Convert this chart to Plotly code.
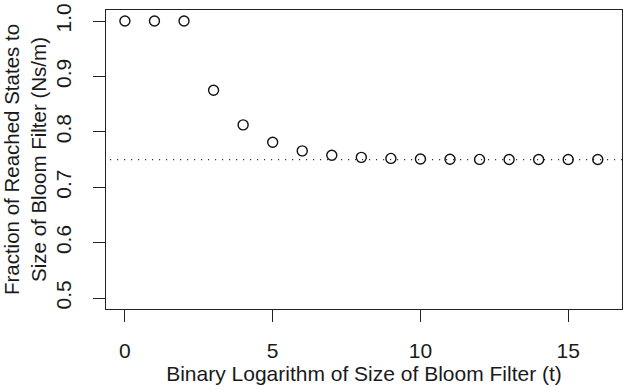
import plotly.graph_objects as go

t_values = list(range(17))
fractions = [1.0, 1.0, 1.0, 0.875, 0.8125, 0.78125, 0.7656, 0.7578, 0.7539,
             0.752, 0.751, 0.7505, 0.7502, 0.7501, 0.75, 0.75, 0.75]
asymptote = 0.75
x_ticks = [0, 5, 10, 15]
y_ticks = [0.5, 0.6, 0.7, 0.8, 0.9, 1.0]
y_tick_text = ["0.5", "0.6", "0.7", "0.8", "0.9", "1.0"]

font = dict(family="Liberation Sans, Arial, sans-serif", size=21, color="#1a1a1a")

fig = go.Figure()
fig.add_trace(go.Scatter(
    x=[-0.5, 16.82], y=[asymptote, asymptote], mode="lines",
    line=dict(color="#111", width=1.2, dash="1px,6px"), showlegend=False, hoverinfo="skip"))
fig.add_trace(go.Scatter(
    x=t_values, y=fractions, mode="markers",
    marker=dict(symbol="circle-open", size=10, color="#111", line=dict(width=1.4)),
    showlegend=False))

fig.update_layout(
    width=635, height=391,
    margin=dict(l=106, r=13, t=10, b=82),
    plot_bgcolor="white", paper_bgcolor="white",
    font=font,
    xaxis=dict(range=[-0.64, 16.82], tickvals=x_ticks, ticktext=[str(v) for v in x_ticks],
               automargin=False,
               showgrid=False, zeroline=False, showline=True, mirror=True,
               linecolor="#222", linewidth=1, ticks="outside", ticklen=12,
               tickcolor="#222", tickwidth=1, ticklabelstandoff=11,
               title=dict(text="Binary Logarithm of Size of Bloom Filter (t)", standoff=1,
                          font=dict(size=21))),
    yaxis=dict(range=[0.4802, 1.0199], tickvals=y_ticks, ticktext=y_tick_text,
               tickangle=-90, automargin=False,
               showgrid=False, zeroline=False, showline=True, mirror=True,
               linecolor="#222", linewidth=1, ticks="outside", ticklen=12,
               tickcolor="#222", tickwidth=1, ticklabelstandoff=14,
               title=dict(text="Fraction of Reached States to<br>Size of Bloom Filter (Ns/m)",
                          standoff=2, font=dict(size=20.5))),
)

fig.write_html("out.html")
